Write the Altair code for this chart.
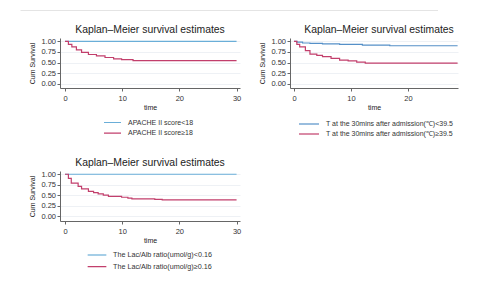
import altair as alt
import pandas as pd

FONT = "Liberation Sans"
TITLE = "Kaplan–Meier survival estimates"
BLUE = "#6aaed8"
BLUE_DARK = "#5590c8"
RED = "#c23f6c"

# Panel 1: APACHE II score
apache_labels = ["APACHE II score<18", "APACHE II score≥18"]
apache_low_t = [0, 30]
apache_low_s = [1.0, 1.0]
apache_high_t = [0, 0.6, 1.2, 2.0, 2.9, 4.1, 5.5, 7.0, 8.5, 9.9, 11.9, 30]
apache_high_s = [1.0, 0.93, 0.87, 0.80, 0.74, 0.69, 0.66, 0.62, 0.59, 0.57, 0.545, 0.545]

# Panel 2: temperature 30 mins after admission
temp_labels = ["T at the 30mins after admission(℃)<39.5",
               "T at the 30mins after admission(℃)≥39.5"]
temp_low_t = [0, 0.5, 1.5, 2.8, 5.0, 8.0, 12.0, 16.8, 28.7]
temp_low_s = [1.0, 0.98, 0.96, 0.95, 0.94, 0.93, 0.91, 0.895, 0.895]
temp_high_t = [0, 0.5, 1.0, 2.0, 2.8, 4.0, 5.0, 6.5, 8.0, 9.5, 11.0, 12.5, 28.7]
temp_high_s = [1.0, 0.93, 0.87, 0.78, 0.70, 0.67, 0.64, 0.60, 0.56, 0.54, 0.51, 0.49, 0.49]

# Panel 3: Lac/Alb ratio
lac_labels = ["The Lac/Alb ratio(umol/g)<0.16", "The Lac/Alb ratio(umol/g)≥0.16"]
lac_low_t = [0, 30]
lac_low_s = [1.0, 1.0]
lac_high_t = [0, 0.6, 1.1, 2.3, 2.9, 4.1, 5.0, 5.8, 6.7, 7.6, 9.9, 11.0, 11.7, 15.7, 17.0, 30]
lac_high_s = [1.0, 0.90, 0.79, 0.71, 0.65, 0.59, 0.56, 0.53, 0.50, 0.47, 0.45, 0.43, 0.41, 0.40, 0.385, 0.385]

Y_TICKS = [0, 0.25, 0.5, 0.75, 1.0]
ONE_ROW = pd.DataFrame({"r": [0]})


def km_panel(curves, labels, colors, x_domain, y_domain, width, height, x_ticks,
             legend_x, legend_y, symbol_len, row_pad, label_size, title_dx=0,
             top_rule=False):
    rows = []
    for (t, s), lab in zip(curves, labels):
        rows += [{"time": ti, "surv": si, "group": lab} for ti, si in zip(t, s)]
    df = pd.DataFrame(rows)
    line = alt.Chart(df).mark_line(interpolate="step-after", strokeWidth=1.2).encode(
        x=alt.X("time:Q",
                scale=alt.Scale(domain=x_domain, nice=False, zero=False),
                axis=alt.Axis(values=x_ticks, title="time", grid=False,
                              labelPadding=3, titlePadding=2)),
        y=alt.Y("surv:Q",
                scale=alt.Scale(domain=y_domain, nice=False, zero=False),
                axis=alt.Axis(values=Y_TICKS, format=".2f", title="Cum Survival",
                              grid=True, gridColor="#eef1f5", titleFontSize=7,
                              labelPadding=1.5, titlePadding=5)),
        color=alt.Color("group:N",
                        scale=alt.Scale(domain=labels, range=colors),
                        legend=alt.Legend(title=None, orient="none",
                                          legendX=legend_x, legendY=legend_y,
                                          direction="vertical", symbolType="stroke",
                                          symbolSize=symbol_len ** 2,
                                          symbolStrokeWidth=1.2, clipHeight=8,
                                          rowPadding=row_pad, labelFontSize=label_size,
                                          labelOffset=6, labelFont=FONT,
                                          labelColor="#333333", padding=0)),
    )
    title = alt.Chart(ONE_ROW).mark_text(
        text=TITLE, font=FONT, fontSize=10.4, color="#222222",
        align="center", baseline="alphabetic"
    ).encode(x=alt.value(width / 2 + title_dx), y=alt.value(-5.5))
    layers = [line, title]
    if top_rule:
        # faint separator line across the top of the figure
        layers.append(alt.Chart(ONE_ROW).mark_rule(color="#e4e4e4", strokeWidth=1).encode(
            x=alt.value(-39.5), x2=alt.value(378), y=alt.value(-27.5)))
    return alt.layer(*layers).properties(width=width, height=height)


p1 = km_panel([(apache_low_t, apache_low_s), (apache_high_t, apache_high_s)],
              apache_labels, [BLUE, RED], [-0.87, 30.6], [-0.094, 1.077], 180, 50,
              [0, 10, 20, 30], 43, 80.5, 17, 2.7, 7, top_rule=True)

p2 = km_panel([(temp_low_t, temp_low_s), (temp_high_t, temp_high_s)],
              temp_labels, [BLUE_DARK, RED], [-0.7, 28.77], [-0.094, 1.077], 168, 50,
              [0, 10, 20], 8, 82, 20, 2, 7, title_dx=5)

p3 = km_panel([(lac_low_t, lac_low_s), (lac_high_t, lac_high_s)],
              lac_labels, [BLUE, RED], [-0.87, 30.6], [-0.118, 1.078], 180, 50,
              [0, 10, 20, 30], 27, 80, 18.7, 3.7, 7.2)

chart = alt.concat(
    p1, p2, p3, columns=2, spacing={"row": 83, "column": 50}, bounds="flush"
).resolve_scale(color="independent").properties(
    padding={"left": 20, "top": 10, "right": 5, "bottom": 5}
).configure(font=FONT).configure_view(stroke=None).configure_axis(
    labelFont=FONT, titleFont=FONT, labelFontSize=7.5, titleFontSize=7,
    titleFontWeight="normal", labelColor="#333333", titleColor="#222222",
    tickSize=3, tickColor="#666666", domainColor="#666666", domainWidth=1,
)

chart.save("out.html", embed_options={"renderer": "svg", "actions": False})
